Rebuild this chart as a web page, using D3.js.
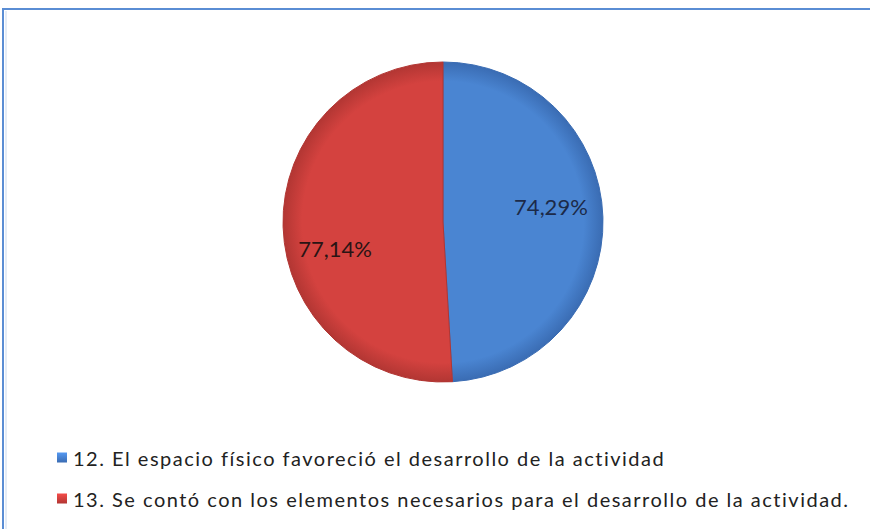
<!DOCTYPE html>
<html>
<head>
<meta charset="utf-8">
<script src="https://cdn.jsdelivr.net/npm/d3@7"></script>
<style>
  body { margin: 0; background: #fff; }
  svg { display: block; }
</style>
</head>
<body>
<svg width="870" height="529"></svg>
<script>
// values
var categories = [
  "12. El espacio físico favoreció el desarrollo de la actividad",
  "13. Se contó con los elementos necesarios para el desarrollo de la actividad."
];
var values = [74.29, 77.14];
var labels = ["74,29%", "77,14%"];

var width = 870;
var height = 529;
var cx = 443, cy = 222, radius = 160;

var colors = d3.scaleOrdinal().domain(categories).range(["#4a85d2", "#d4423f"]);
var darks = d3.scaleOrdinal().domain(categories).range(["#3a6cb3", "#b23633"]);

var svg = d3.select("svg");
var defs = svg.append("defs");

categories.forEach(function (c, i) {
  // gradient lives inside the translated pie group, so centre is 0,0
  var grad = defs.append("radialGradient")
    .attr("id", "grad" + i)
    .attr("gradientUnits", "userSpaceOnUse")
    .attr("cx", 0).attr("cy", 0).attr("r", radius);
  grad.append("stop").attr("offset", "0%").attr("stop-color", colors(c));
  grad.append("stop").attr("offset", "88%").attr("stop-color", colors(c));
  grad.append("stop").attr("offset", "100%").attr("stop-color", darks(c));

  var mg = defs.append("linearGradient")
    .attr("id", "mark" + i)
    .attr("x1", 0).attr("y1", 0).attr("x2", 0).attr("y2", 1);
  mg.append("stop").attr("offset", "0%").attr("stop-color", d3.color(colors(c)).brighter(0.4));
  mg.append("stop").attr("offset", "100%").attr("stop-color", darks(c));
});

// frame
svg.append("rect")
  .attr("x", 3).attr("y", 9)
  .attr("width", 880).attr("height", 540)
  .attr("fill", "#fff")
  .attr("stroke", "#5a8dd4")
  .attr("stroke-width", 2);
svg.append("line")
  .attr("x1", 6).attr("x2", 6).attr("y1", 11).attr("y2", 529)
  .attr("stroke", "#e4ecf7").attr("stroke-width", 2);

// pie
var pie = d3.pie().sort(null).value(function (d) { return d; });
var arc = d3.arc().innerRadius(0).outerRadius(radius);
var labelArc = d3.arc().innerRadius(108).outerRadius(108);
var arcs = pie(values);

var g = svg.append("g").attr("transform", "translate(" + cx + "," + cy + ")");

g.selectAll("path.slice")
  .data(arcs)
  .enter()
  .append("path")
  .attr("class", "slice")
  .attr("d", arc)
  .attr("fill", function (d, i) { return "url(#grad" + i + ")"; })
  .attr("stroke", function (d, i) { return darks(categories[i]); })
  .attr("stroke-width", 1);

// Excel puts the labels a bit off the centroid
var labelNudge = [-12, 23];
g.selectAll("text.lbl")
  .data(arcs)
  .enter()
  .append("text")
  .attr("class", "lbl")
  .attr("x", function (d) { return labelArc.centroid(d)[0]; })
  .attr("y", function (d, i) { return labelArc.centroid(d)[1] + labelNudge[i]; })
  .attr("text-anchor", "middle")
  .attr("dominant-baseline", "central")
  .style("font-family", "Lato, 'Open Sans', sans-serif")
  .style("font-size", "22px")
  .style("fill", function (d, i) { return i == 0 ? "#1c2a48" : "#2a1414"; })
  .text(function (d, i) { return labels[i]; });

// legend
var legendY = d3.scaleBand().domain(categories).range([437, 519]);
var legend = svg.append("g");
var rows = legend.selectAll("g")
  .data(categories)
  .enter()
  .append("g")
  .attr("transform", function (d) {
    return "translate(57," + (legendY(d) + legendY.bandwidth() / 2) + ")";
  });

rows.append("rect")
  .attr("x", 0).attr("y", -5)
  .attr("width", 10).attr("height", 10)
  .attr("fill", function (d, i) { return "url(#mark" + i + ")"; });

rows.append("text")
  .attr("x", 16)
  .attr("y", 0)
  .attr("dominant-baseline", "central")
  .style("font-family", "Lato, 'Open Sans', sans-serif")
  .style("font-size", "20px")
  .style("letter-spacing", "1.5px")
  .style("fill", "#222")
  .text(function (d) { return d; });
</script>
</body>
</html>
